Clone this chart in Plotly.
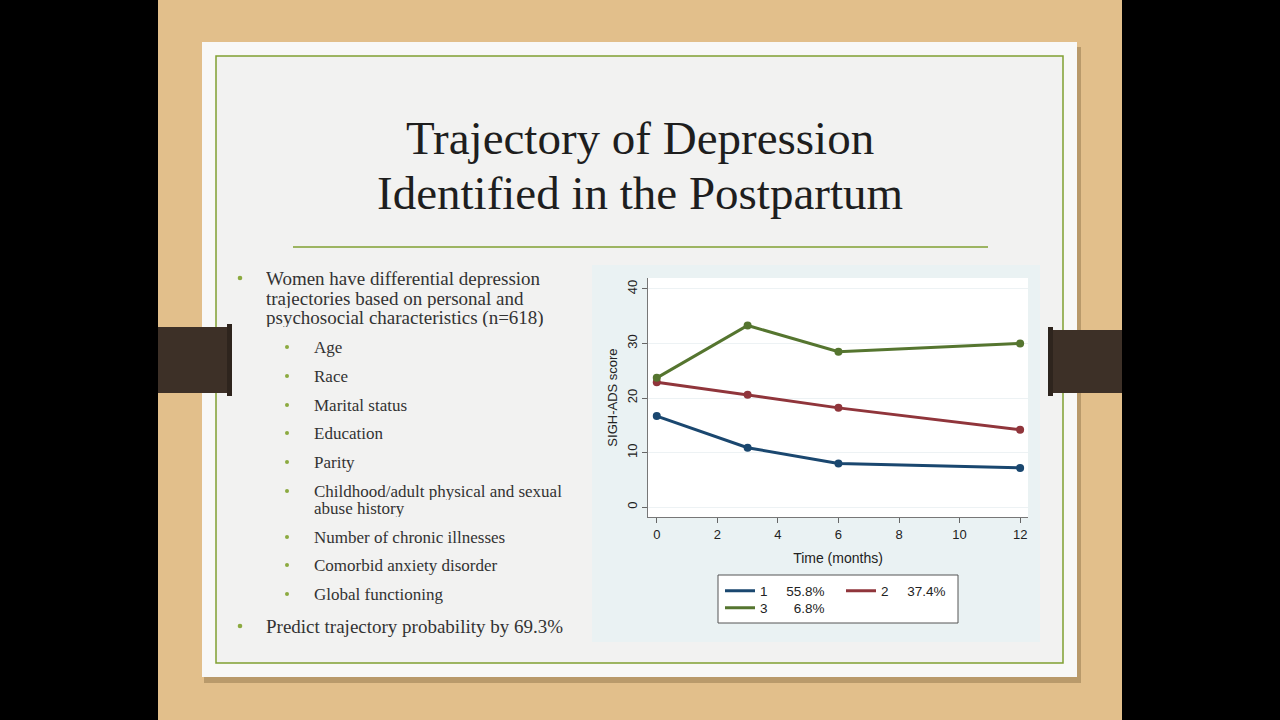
import plotly.graph_objects as go

# ---------------- data ----------------
months = [0, 3, 6, 12]
group1 = [16.7, 10.9, 8.0, 7.2]
group2 = [22.9, 20.6, 18.2, 14.2]
group3 = [23.7, 33.3, 28.5, 30.0]
group_names = ["1", "2", "3"]
group_shares = ["55.8%", "37.4%", "6.8%"]
x_ticks = [0, 2, 4, 6, 8, 10, 12]
y_ticks = [0, 10, 20, 30, 40]

title_lines = ["Trajectory of Depression", "Identified in the Postpartum"]
main_bullet_1 = ["Women have differential depression",
                 "trajectories based on personal and",
                 "psychosocial characteristics (n=618)"]
sub_bullets = ["Age", "Race", "Marital status", "Education", "Parity",
               ["Childhood/adult physical and sexual", "abuse history"],
               "Number of chronic illnesses", "Comorbid anxiety disorder",
               "Global functioning"]
main_bullet_2 = "Predict trajectory probability by 69.3%"

# ---------------- styling / layout helpers ----------------
W, H = 1280, 720
def X(p): return p / W
def Y(p): return 1 - p / H

colors = ["#1A476F", "#90353B", "#55752F"]
series = [group1, group2, group3]
GREEN = "#80A032"
SERIF = "Liberation Serif"
SANS = "Liberation Sans"

fig = go.Figure()

# lines (legend) + markers
for i, (vals, c) in enumerate(zip(series, colors)):
    pad = "\u00a0" * (5 if len(group_shares[i]) == 5 else 7)
    fig.add_trace(go.Scatter(
        x=months, y=vals, mode="lines",
        line=dict(color=c, width=3),
        name=group_names[i] + pad + group_shares[i],
        legend="legend" if i < 2 else "legend2",
        hoverinfo="skip"))
for vals, c in zip(series, colors):
    fig.add_trace(go.Scatter(
        x=months, y=vals, mode="markers",
        marker=dict(color=c, size=8),
        showlegend=False, hoverinfo="skip"))

def rect(x0, y0, x1, y1, fill, line_color=None, lw=0, layer="below"):
    return dict(type="rect", xref="paper", yref="paper",
                x0=X(x0), x1=X(x1), y0=Y(y1), y1=Y(y0),
                fillcolor=fill, layer=layer,
                line=dict(color=line_color or fill, width=lw))

shapes = []
# wood background
shapes.append(rect(158, 0, 1122, 720, "#E2BF8B"))
# card shadow + card
shapes.append(rect(204, 47, 1081, 683, "rgba(110,85,50,0.35)"))
shapes.append(rect(202, 42, 1077, 677, "#F8F8F7"))
shapes.append(rect(216, 56, 1063, 663, "#F2F2F1", GREEN, 1.5))
# title rule
shapes.append(dict(type="line", xref="paper", yref="paper",
                   x0=X(293), x1=X(988), y0=Y(247), y1=Y(247),
                   line=dict(color=GREEN, width=1.5), layer="below"))
# chart image background and plot area
shapes.append(rect(592, 265, 1040, 642, "#EAF2F3"))
shapes.append(rect(648, 278, 1028, 517, "#FFFFFF"))
# legend box
shapes.append(rect(718, 575, 958, 623, "#FFFFFF", "#555555", 1))
# brown tabs
shapes.append(rect(158, 327, 229, 393, "#3D3027"))
shapes.append(rect(227, 324, 232, 396, "#2E241D"))
shapes.append(rect(1051, 330, 1122, 393, "#3D3027"))
shapes.append(rect(1048, 327, 1053, 396, "#2E241D"))

# bullets
def dot(cx, cy, r=2.3):
    return dict(type="circle", xref="paper", yref="paper",
                x0=X(cx - r), x1=X(cx + r), y0=Y(cy + r), y1=Y(cy - r),
                fillcolor="#8CAA40", line=dict(width=0), layer="below")

annotations = []
def text(x, y, s, size, color="#333333", anchor="left", family=SERIF,
         box_h=None):
    a = dict(x=X(x), y=Y(y), xref="paper", yref="paper",
             text=s, showarrow=False, xanchor=anchor,
             yanchor="middle", valign="middle",
             font=dict(family=family, size=size, color=color))
    if box_h:
        a["height"] = box_h
    annotations.append(a)

# title
text(640, 138, title_lines[0], 47, "#1E1E1E", "center")
text(640, 193, title_lines[1], 47, "#1E1E1E", "center")

# main bullet 1
main_y = [278, 298, 317]
shapes.append(dot(240, 278))
for s, y in zip(main_bullet_1, main_y):
    text(264, y, s, 19, box_h=19)

sub_y = [347, 376, 405, 433, 462, 491, 537, 565, 594]
for s, y in zip(sub_bullets, sub_y):
    shapes.append(dot(287, y, 2.0))
    if isinstance(s, list):
        text(312, y, s[0], 17, box_h=17)
        text(312, y + 17, s[1], 17, box_h=17)
    else:
        text(312, y, s, 17)

shapes.append(dot(240, 626))
text(264, 626, main_bullet_2, 19)

axis_font = dict(family=SANS, size=13, color="#222222")
title_font = dict(family=SANS, size=14, color="#222222")

fig.update_layout(
    width=W, height=H,
    margin=dict(l=0, r=0, t=0, b=0),
    paper_bgcolor="#000000",
    plot_bgcolor="#FFFFFF",
    shapes=shapes,
    annotations=annotations,
    xaxis=dict(domain=[X(648), X(1028)], range=[-0.29, 12.26],
               tickvals=x_ticks, ticks="outside", ticklen=5,
               tickcolor="#666666", showline=True, linecolor="#777777",
               linewidth=1, showgrid=False, zeroline=False,
               tickfont=axis_font,
               title=dict(text="Time (months)", font=title_font, standoff=12)),
    yaxis=dict(domain=[Y(517), Y(278)], range=[-1.8, 42],
               tickvals=y_ticks, ticks="outside", ticklen=5,
               tickcolor="#666666", showline=True, linecolor="#777777",
               linewidth=1, showgrid=True, gridcolor="#EDF2F4",
               gridwidth=1, zeroline=False, tickangle=-90,
               tickfont=axis_font,
               title=dict(text="SIGH-ADS score", font=axis_font, standoff=4)),
    legend=dict(orientation="h", x=X(720), y=Y(591), xanchor="left",
                yanchor="middle", bgcolor="rgba(0,0,0,0)",
                font=dict(family=SANS, size=13.5, color="#222222"),
                entrywidth=76, entrywidthmode="pixels", itemclick=False),
    legend2=dict(orientation="h", x=X(720), y=Y(608), xanchor="left",
                 yanchor="middle", bgcolor="rgba(0,0,0,0)",
                 font=dict(family=SANS, size=13.5, color="#222222"),
                 itemclick=False),
    showlegend=True,
)

fig.write_html("out.html",
               config={"displayModeBar": False},
               post_script="document.body.style.margin='0';"
                           "document.body.style.overflow='hidden';")
